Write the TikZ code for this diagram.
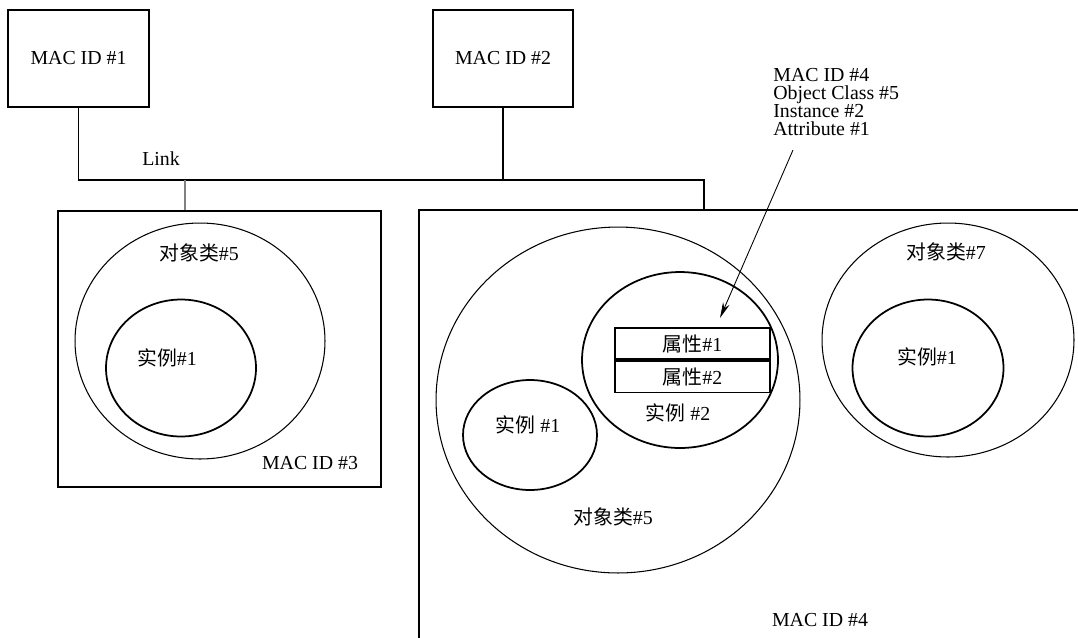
\documentclass[tikz,border=0pt]{standalone}
\usepackage{fontspec}
\setmainfont{Liberation Serif}
\newfontfamily\cjk{Noto Sans CJK SC}
\usetikzlibrary{arrows.meta,positioning,shapes.geometric}
\newcommand{\Zh}[1]{{\cjk #1}}

\begin{document}
\begin{tikzpicture}[x=0.02cm,y=-0.02cm,
  font=\fontsize{11.3}{12}\selectfont,
  macbox/.style={rectangle,draw=black,line width=1pt,inner sep=0pt},
  outerset/.style={ellipse,draw=black,line width=0.6pt,inner sep=0pt},
  innerset/.style={ellipse,draw=black,line width=1pt,inner sep=0pt},
  attrbox/.style={rectangle,draw=black,line width=1pt,inner sep=0pt,minimum width=3.1cm,minimum height=0.63cm},
  bus/.style={line width=0.6pt}]
\useasboundingbox (0,0) rectangle (1078,637);
\clip (0,0) rectangle (1078,637);
% \draw[help lines] (0,0) grid (1078,637);
\node (mac1) [macbox,minimum width=2.82cm,minimum height=1.94cm] at (78.5,58.5) {MAC ID \#1};
\node (mac2) [macbox,minimum width=2.8cm,minimum height=1.94cm] at (503,58.5) {MAC ID \#2};
\node (mac3) [macbox,minimum width=6.46cm,minimum height=5.52cm] at (219.5,349) {};
\node (mac4) [macbox,line width=1.2pt,minimum width=13.62cm,minimum height=9cm] at (759.5,435) {};
%
\coordinate (busL) at (78.5,180);
\coordinate (busR) at (704,180);
\coordinate (tap) at (185,180);
\draw[bus] (mac1.south) -- (busL) -- (busR) -- (busR |- mac4.north);
\draw[bus] (mac2.south) -- (mac2.south |- busL);
\draw[bus,gray] (tap) -- (tap |- mac3.north);
\node (link) at (161,159) {Link};

% left station
\node (cls5a) [outerset,minimum width=5cm,minimum height=4.72cm] at (200,341) {};
\node (ins1a) [innerset,minimum width=3cm,minimum height=2.74cm] at (181,368) {};
\node (cls5alab) at (199,253) {\Zh{对象类}\#5};
\node (ins1alab) at (167,358) {\Zh{实例}\#1};
\node (mac3lab) at (310,463) {MAC ID \#3};

% right station
\node (cls5b) [outerset,minimum width=7.28cm,minimum height=6.92cm] at (618,400) {};
\node (ins1b) [innerset,minimum width=2.68cm,minimum height=2.2cm] at (530,435) {};
\node (ins2b) [innerset,minimum width=3.92cm,minimum height=3.52cm] at (680,360) {};
\node (attr1) [attrbox] at (692.5,343.5) {\Zh{属性}\#1};
\node (attr2) [attrbox,below=0pt of attr1] {\Zh{属性}\#2};
\node (cls5blab) at (613,517) {\Zh{对象类}\#5};
\node (ins1blab) at (528,425) {\Zh{实例} \#1};
\node (ins2blab) at (678,413) {\Zh{实例} \#2};
%
\node (cls7) [outerset,minimum width=5.04cm,minimum height=4.68cm] at (948,340) {};
\node (ins1c) [innerset,minimum width=3.02cm,minimum height=2.74cm] at (928,368) {};
\node (cls7lab) at (946,252) {\Zh{对象类}\#7};
\node (ins1clab) at (927,357) {\Zh{实例}\#1};
\node (mac4lab) at (820,620) {MAC ID \#4};

% path of the addressed attribute
\node (note) [anchor=north west,align=left,inner sep=0pt,font=\fontsize{11.3}{10.3}\selectfont] at (773,68) {MAC ID \#4\\Object Class \#5\\Instance \#2\\Attribute \#1};
\coordinate (from) at (793,150);
\coordinate (tip) at (720,318);
\draw[-{Stealth[length=9pt,width=4pt]},line width=0.5pt] (from) -- (tip);
\end{tikzpicture}
\end{document}
